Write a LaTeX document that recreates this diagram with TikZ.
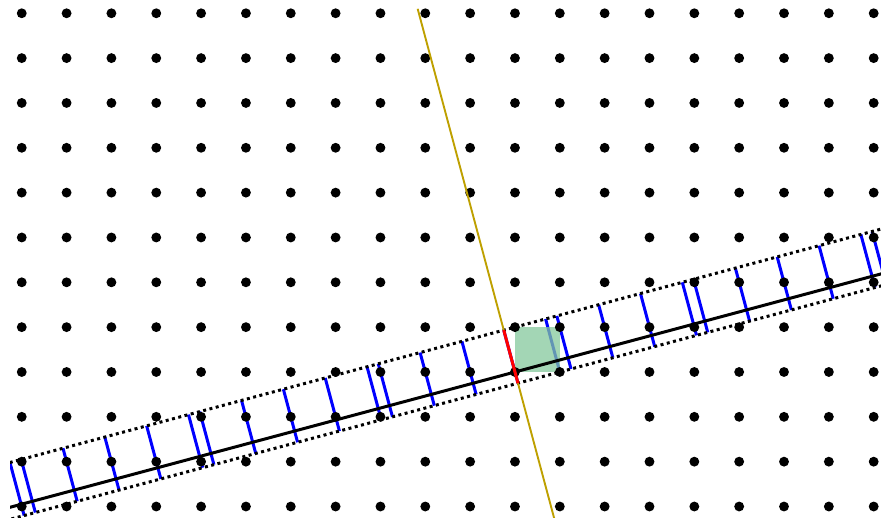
\documentclass[tikz,border=0pt]{standalone}
\usepackage{xcolor}
\usepackage{tikz}
\usetikzlibrary{calc}
\definecolor{winyellow}{RGB}{190,160,0}
\definecolor{cellgreen}{RGB}{132,200,156}
\tikzset{
      latdot/.style     = {fill=black},                       % lattice points
      physline/.style   = {line width=1.9pt, black},          % physical space
      stripline/.style  = {line width=1.9pt, black,
                           dash pattern=on 1.9pt off 2.2pt},  % strip edges
      perpline/.style   = {line width=1.2pt, winyellow},      % internal space
      window/.style     = {line width=1.9pt, red},
      lift/.style       = {line width=1.9pt, blue},
      unitcell/.style   = {fill=cellgreen, opacity=0.75}
    }

\begin{document}
\begin{tikzpicture}
  \useasboundingbox (-11.485,-3.256) rectangle (8.163,8.296);
  \pgfmathsetmacro{\sn}{sin(15)}
  \pgfmathsetmacro{\cs}{cos(15)}
  \begin{scope}
    \clip (-11.26,-3.256) rectangle (8.163,8.296);
    % Strip edges (window ends)
    \coordinate (wtop) at (105:\cs);
    \coordinate (wbot) at (285:\sn);
    % Selected points, lifted across the strip
    \foreach \m in {-11,...,8}{
      \foreach \n in {-3,...,8}{
        \pgfmathsetmacro{\p}{\n*\cs-(\m)*\sn}
        \pgfmathtruncatemacro{\inwin}{and(\p>-\sn-0.001, \p<\cs-0.001)}
        \ifnum\inwin=1
          \draw[lift] ($(\m,\n)+(105:{\cs-\p})$) -- ($(\m,\n)+(285:{\p+\sn})$);
        \fi
      }
    }
    % Unit cell
    \fill[unitcell] (0,0) rectangle (1,1);
    % Lattice
    \foreach \m in {-11,...,8}
      \foreach \n in {-3,...,8}
        \fill[latdot] (\m,\n) circle (0.11);
    % Physical line and strip
    \draw[physline] (195:14) -- (15:10);
    \draw[stripline] ($(wtop)+(195:14)$) -- ($(wtop)+(15:10)$);
    \draw[stripline] ($(wbot)+(195:14)$) -- ($(wbot)+(15:10)$);
    % Internal line and window
    \draw[perpline] (105:8.385) -- (285:8.385);
    \draw[window] (wtop) -- (wbot);
  \end{scope}
\end{tikzpicture}
\end{document}
